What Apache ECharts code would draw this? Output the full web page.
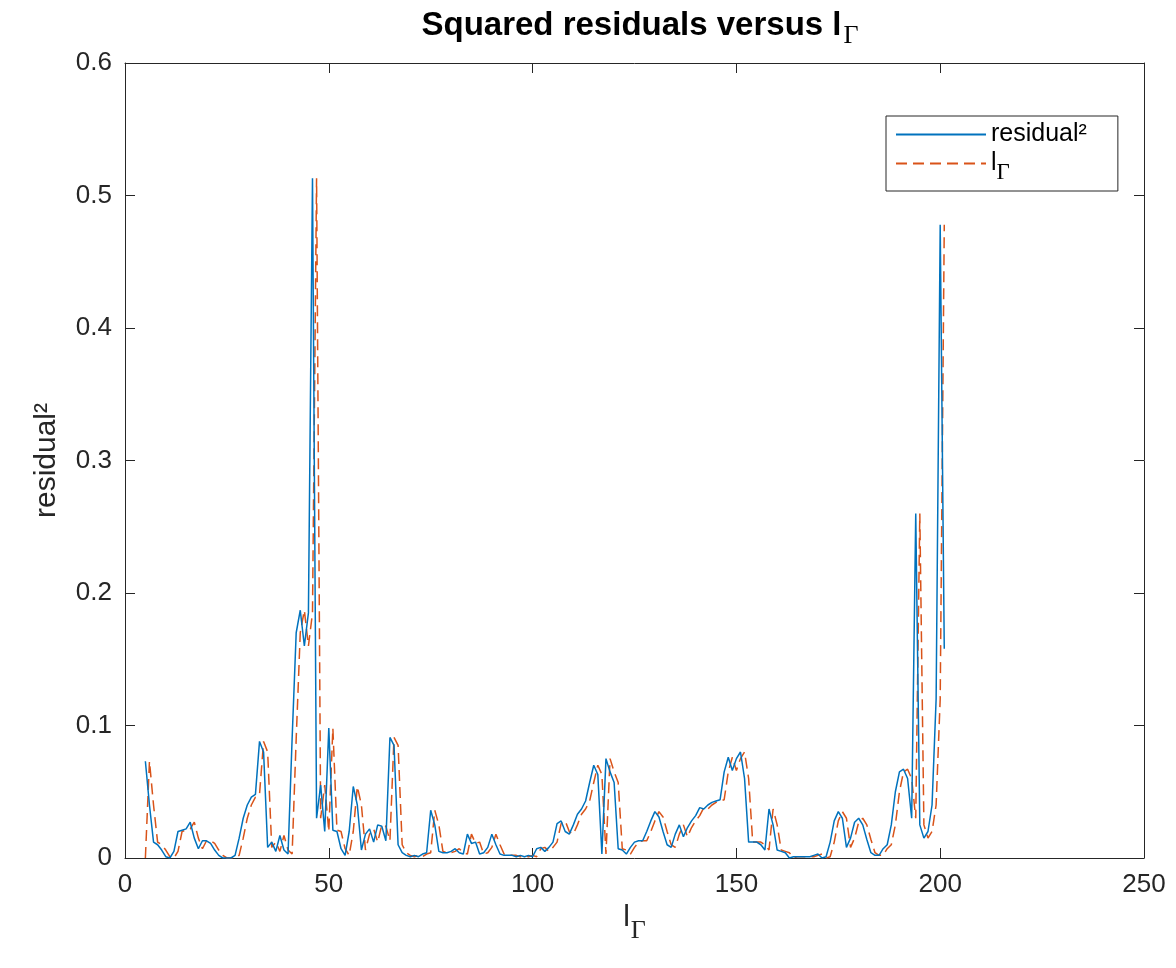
<!DOCTYPE html>
<html>
<head>
<meta charset="utf-8">
<script src="https://cdn.jsdelivr.net/npm/echarts@6/dist/echarts.min.js"></script>
<style>
html,body{margin:0;padding:0;background:#fff;}
#chart{width:1176px;height:968px;}
</style>
</head>
<body>
<div id="chart"></div>
<script>
// x position of the first sample of each series
const residualStartX = 5;
const lGammaStartX = 5;

// squared residuals (solid blue), one value per integer x starting at residualStartX
const residualSq = [
  0.073,0.040,0.012,0.010,0.006,0.001,0.000,0.005,0.020,0.021,
  0.022,0.027,0.015,0.007,0.013,0.013,0.011,0.006,0.002,0.000,
  0.000,0.000,0.002,0.015,0.030,0.040,0.046,0.048,0.088,0.080,
  0.008,0.012,0.005,0.017,0.006,0.003,0.090,0.170,0.187,0.160,
  0.185,0.513,0.030,0.055,0.020,0.098,0.021,0.020,0.007,0.002,
  0.020,0.054,0.040,0.006,0.018,0.022,0.012,0.025,0.024,0.013,
  0.091,0.085,0.010,0.004,0.002,0.001,0.002,0.001,0.003,0.004,
  0.036,0.025,0.005,0.004,0.004,0.005,0.007,0.004,0.003,0.018,
  0.011,0.012,0.003,0.004,0.008,0.018,0.010,0.003,0.002,0.002,
  0.002,0.001,0.002,0.001,0.002,0.001,0.007,0.008,0.005,0.008,
  0.012,0.026,0.028,0.020,0.018,0.025,0.033,0.037,0.043,0.057,
  0.070,0.063,0.003,0.075,0.065,0.057,0.007,0.006,0.003,0.008,
  0.012,0.013,0.013,0.020,0.028,0.035,0.031,0.020,0.010,0.008,
  0.018,0.025,0.016,0.023,0.028,0.032,0.038,0.037,0.040,0.042,
  0.043,0.044,0.065,0.076,0.066,0.075,0.080,0.060,0.012,0.012,
  0.012,0.010,0.006,0.037,0.025,0.006,0.005,0.004,0.000,0.001,
  0.001,0.001,0.001,0.001,0.002,0.003,0.000,0.001,0.012,0.028,
  0.035,0.030,0.008,0.015,0.027,0.030,0.025,0.014,0.004,0.002,
  0.002,0.007,0.010,0.025,0.050,0.065,0.067,0.060,0.030,0.260,
  0.025,0.015,0.020,0.040,0.120,0.478,0.158
];

// l_Gamma (dashed orange), one value per integer x starting at lGammaStartX
const lGamma = [
  0.000,0.073,0.040,0.012,0.010,0.006,0.001,0.000,0.005,0.020,
  0.021,0.022,0.027,0.015,0.007,0.013,0.013,0.011,0.006,0.002,
  0.000,0.000,0.000,0.002,0.015,0.030,0.040,0.046,0.048,0.088,
  0.080,0.008,0.012,0.005,0.017,0.006,0.003,0.090,0.170,0.187,
  0.160,0.185,0.513,0.030,0.055,0.020,0.098,0.021,0.020,0.007,
  0.002,0.020,0.054,0.040,0.006,0.018,0.022,0.012,0.025,0.024,
  0.013,0.091,0.085,0.010,0.004,0.002,0.001,0.002,0.001,0.003,
  0.004,0.036,0.025,0.005,0.004,0.004,0.005,0.007,0.004,0.003,
  0.018,0.011,0.012,0.003,0.004,0.008,0.018,0.010,0.003,0.002,
  0.002,0.002,0.001,0.002,0.001,0.002,0.001,0.007,0.008,0.005,
  0.008,0.012,0.026,0.028,0.020,0.018,0.025,0.033,0.037,0.043,
  0.057,0.070,0.063,0.003,0.075,0.065,0.057,0.007,0.006,0.003,
  0.008,0.012,0.013,0.013,0.020,0.028,0.035,0.031,0.020,0.010,
  0.008,0.018,0.025,0.016,0.023,0.028,0.032,0.038,0.037,0.040,
  0.042,0.043,0.044,0.065,0.076,0.066,0.075,0.080,0.060,0.012,
  0.012,0.012,0.010,0.006,0.037,0.025,0.006,0.005,0.004,0.000,
  0.001,0.001,0.001,0.001,0.001,0.002,0.003,0.000,0.001,0.012,
  0.028,0.035,0.030,0.008,0.015,0.027,0.030,0.025,0.014,0.004,
  0.002,0.002,0.007,0.010,0.025,0.050,0.065,0.067,0.060,0.030,
  0.260,0.025,0.015,0.020,0.040,0.120,0.478
];

// axis settings
const xMin = 0, xMax = 250, xStep = 50;
const yMin = 0, yMax = 0.6, yStep = 0.1;

// texts
const titleText = 'Squared residuals versus l';
const subGamma = 'Γ';
const residualLabel = 'residual²';
const lLabel = 'l';

const toPairs = (start, vals) => vals.map((v, i) => [start + i, v]);

const AX = '#262626';
const SANS = '"Liberation Sans", Arial, Helvetica, sans-serif';
const SERIF = '"Liberation Serif", "DejaVu Serif", serif';

// text measuring for placing the Γ subscripts
const mctx = document.createElement('canvas').getContext('2d');
function textW(font, s) { mctx.font = font; return mctx.measureText(s).width; }

// title geometry
const titleFont = 33, titleSubFont = 26, titleCenterX = 640, titleTop = 9;
const wTitle = textW('bold ' + titleFont + 'px ' + SANS, titleText);
const wTitleSub = textW(titleSubFont + 'px ' + SERIF, subGamma);
const titleLeft = titleCenterX - (wTitle + 2 + wTitleSub) / 2;

// x-axis name geometry
const plotLeft = 125, plotRight = 1144, plotBottom = 858;
const xNameFont = 30, xNameGap = 45, xNameShift = 8;
const wL30 = textW(xNameFont + 'px ' + SANS, lLabel);
const xNameCenter = (plotLeft + plotRight) / 2 - xNameShift;

// legend geometry
const legLeft = 886, legTop = 116, legPad = [4, 31, 13, 9], legItemW = 90, legRow = 29, legFont = 25;
const wL25 = textW(legFont + 'px ' + SANS, lLabel);

const chart = echarts.init(document.getElementById('chart'), null, {renderer: 'canvas'});

const baseAxis = {
  axisLine: {show: true, onZero: false, lineStyle: {color: AX, width: 1}},
  axisTick: {show: true, inside: true, length: 10, lineStyle: {color: AX, width: 1}},
  splitLine: {show: false}
};

const option = {
  animation: false,
  backgroundColor: '#ffffff',
  title: {
    text: titleText,
    left: titleLeft,
    top: titleTop,
    padding: 0,
    textStyle: {fontFamily: SANS, fontWeight: 'bold', fontSize: titleFont, color: '#000', lineHeight: 34}
  },
  grid: {left: plotLeft, right: 1176 - plotRight, top: 63, bottom: 968 - plotBottom, containLabel: false},
  legend: {
    orient: 'vertical',
    left: legLeft,
    top: legTop,
    padding: legPad,
    itemGap: 0,
    itemWidth: legItemW,
    itemHeight: 14,
    borderColor: AX,
    borderWidth: 1,
    borderRadius: 0,
    backgroundColor: '#fff',
    itemStyle: {opacity: 0, borderWidth: 0},
    data: [{name: residualLabel}, {name: lLabel}],
    textStyle: {fontFamily: SANS, fontSize: legFont, color: '#000', lineHeight: legRow}
  },
  graphic: [
    {
      type: 'text', silent: true, z: 100,
      x: titleLeft + wTitle + 2, y: titleTop + 17 + 10,
      style: {text: subGamma, font: titleSubFont + 'px ' + SERIF, fill: '#000', align: 'left', verticalAlign: 'middle'}
    },
    {
      type: 'text', silent: true, z: 100,
      x: xNameCenter + wL30 / 2 + 1, y: plotBottom + xNameGap + 15 + 13,
      style: {text: subGamma, font: '26px ' + SERIF, fill: AX, align: 'left', verticalAlign: 'middle'}
    },
    {
      type: 'text', silent: true, z: 100,
      x: legLeft + legPad[3] + legItemW + 5 + wL25 + 1, y: legTop + legPad[0] + legRow * 1.5 + 9,
      style: {text: subGamma, font: '23px ' + SERIF, fill: '#000', align: 'left', verticalAlign: 'middle'}
    }
  ],
  xAxis: [
    Object.assign({}, baseAxis, {
      type: 'value', position: 'bottom', min: xMin, max: xMax, interval: xStep,
      axisLabel: {show: true, color: AX, fontSize: 26, fontFamily: SANS, margin: 14},
      name: lLabel,
      nameLocation: 'middle',
      nameGap: xNameGap,
      nameTextStyle: {fontFamily: SANS, fontSize: xNameFont, color: AX, lineHeight: 30, padding: [0, xNameShift * 2, 0, 0]}
    }),
    Object.assign({}, baseAxis, {
      type: 'value', position: 'top', min: xMin, max: xMax, interval: xStep,
      axisLabel: {show: false}
    })
  ],
  yAxis: [
    Object.assign({}, baseAxis, {
      type: 'value', position: 'left', min: yMin, max: yMax, interval: yStep,
      axisLabel: {
        show: true, color: AX, fontSize: 26, fontFamily: SANS, margin: 13,
        formatter: function (v) { return v === 0 ? '0' : v.toFixed(1); }
      },
      name: residualLabel,
      nameLocation: 'middle',
      nameRotate: 90,
      nameGap: 62,
      nameTextStyle: {fontFamily: SANS, fontSize: 30, color: AX, lineHeight: 32}
    }),
    Object.assign({}, baseAxis, {
      type: 'value', position: 'right', min: yMin, max: yMax, interval: yStep,
      axisLabel: {show: false}
    })
  ],
  series: [
    {
      name: residualLabel,
      type: 'line',
      xAxisIndex: 0, yAxisIndex: 0,
      data: toPairs(residualStartX, residualSq),
      showSymbol: false,
      symbol: 'none',
      lineStyle: {color: '#0072BD', width: 1.5, type: 'solid'},
      itemStyle: {color: '#0072BD'},
      z: 3
    },
    {
      name: lLabel,
      type: 'line',
      xAxisIndex: 0, yAxisIndex: 0,
      data: toPairs(lGammaStartX, lGamma),
      showSymbol: false,
      symbol: 'none',
      lineStyle: {color: '#D95319', width: 1.5, type: [11, 6]},
      itemStyle: {color: '#D95319'},
      z: 2
    }
  ]
};

chart.setOption(option);
</script>
</body>
</html>
